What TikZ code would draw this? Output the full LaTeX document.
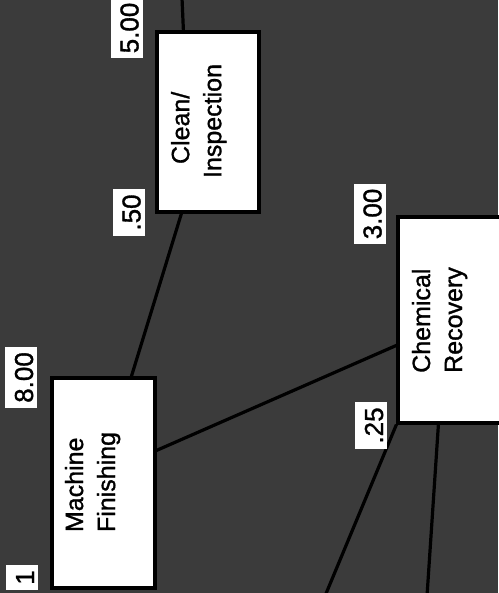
\documentclass[tikz,border=0pt]{standalone}
\usepackage{fontspec}
\setmainfont{Liberation Sans}
\newfontfamily\medsans{Liberation Sans}[FakeBold=1.2]
\usetikzlibrary{calc}
\begin{document}
\begin{tikzpicture}[x=1pt,y=-1pt,
  proc/.style={draw=black,line width=3.2pt,fill=white,inner sep=0pt},
  ptext/.style={rotate=90,align=left,inner sep=0pt,font=\medsans\fontsize{25}{32}\selectfont},
  lbl/.style={fill=white,rotate=90,inner xsep=5pt,inner ysep=4pt,text height=24pt,text depth=0pt,font=\medsans\fontsize{26}{30}\selectfont},
  conn/.style={draw=black,line width=3.2pt}]
\useasboundingbox (0,0) rectangle (498,593);
\fill[black!77] (0,0) rectangle (498,593);
% process boxes
\node[proc,minimum width=103pt,minimum height=210pt] (mf) at (103.5,483) {};
\node[proc,minimum width=102pt,minimum height=180pt] (ci) at (208,122) {};
\node[proc,minimum width=110pt,minimum height=206pt] (cr) at (453,320) {};
% box texts
\node[ptext] (mft) at (92.6,482) {Machine\\Finishing};
\node[ptext] (cit) at (198.7,121) {\hspace*{14pt}Clean/\\Inspection};
\node[ptext] (crt) at (439.6,320) {Chemical\\Recovery};
% free ends
\coordinate (top) at (182,-2);
\coordinate (b1) at (325,596);
\coordinate (b2) at (427,596);
% connectors
\draw[conn] (top) -- ($(ci.north west)+(28,0)$);
\draw[conn] ($(ci.south west)+(26,0)$) -- ($(mf.north west)+(81,0)$);
\draw[conn] ($(mf.north east)+(0,74)$) -- ($(cr.north west)+(0,130)$);
\draw[conn] (cr.south west) -- (b1);
\draw[conn] ($(cr.south west)+(42,0)$) -- (b2);
% value labels
\node[lbl] (l8) at (21,377.5) {8.00};
\node[lbl] (l50) at (128.5,212.5) {.50};
\node[lbl] (l5) at (126.5,28) {5.00};
\node[lbl] (l3) at (369.5,214) {3.00};
\node[lbl] (l25) at (371,425.5) {.25};
\node[lbl] (l1) at (22,577.5) {1};
\end{tikzpicture}
\end{document}
